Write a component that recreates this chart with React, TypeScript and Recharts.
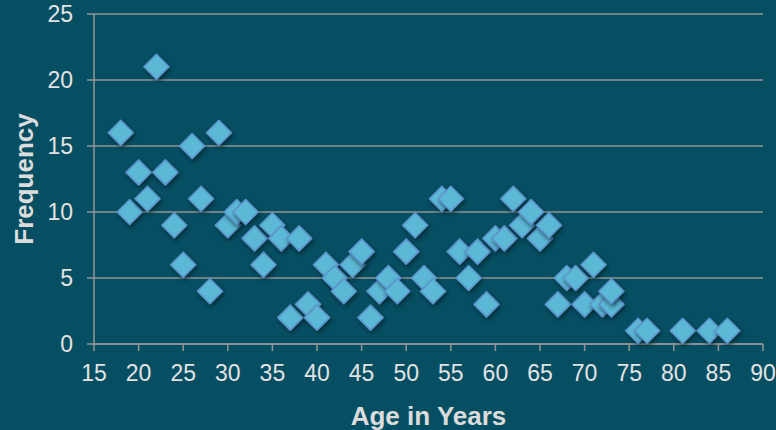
import { CartesianGrid, Label, Scatter, ScatterChart, XAxis, YAxis } from 'recharts';

const ages = [
  18, 19, 20, 21, 22, 23, 24, 25, 26, 27, 28, 29, 30, 31, 32, 33, 34, 35, 36, 37, 38,
  39, 40, 41, 42, 43, 44, 45, 46, 47, 48, 49, 50, 51, 52, 53, 54, 55, 56, 57, 58, 59,
  60, 61, 62, 63, 64, 65, 66, 67, 68, 69, 70, 71, 72, 73, 73, 76, 77, 81, 84, 86,
];
const frequencies = [
  16, 10, 13, 11, 21, 13, 9, 6, 15, 11, 4, 16, 9, 10, 10, 8, 6, 9, 8, 2, 8,
  3, 2, 6, 5, 4, 6, 7, 2, 4, 5, 4, 7, 9, 5, 4, 11, 11, 7, 5, 7, 3,
  8, 8, 11, 9, 10, 8, 9, 3, 5, 5, 3, 6, 3, 3, 4, 1, 1, 1, 1, 1,
];
const xTicks = [15, 20, 25, 30, 35, 40, 45, 50, 55, 60, 65, 70, 75, 80, 85, 90];
const yTicks = [0, 5, 10, 15, 20, 25];

const points = ages.map((age, i) => ({ age, freq: frequencies[i] }));

const BG = '#064f63';
const GRID = '#939696';
const TICK = '#e3e3e3';
const FONT = '"Liberation Sans", Arial, Helvetica, sans-serif';

function Diamond(props: any) {
  const { cx, cy } = props;
  if (cx == null || cy == null) return null;
  const r = 12.5;
  const pts = `${cx},${cy - r} ${cx + r},${cy} ${cx},${cy + r} ${cx - r},${cy}`;
  return (
    <polygon
      points={pts}
      fill="#5bb9d5"
      stroke="#5d94cc"
      strokeWidth={1.6}
      strokeLinejoin="round"
      filter="url(#diamondShadow)"
    />
  );
}

function XTitle({ viewBox }: any) {
  const { x, y, width, height } = viewBox;
  return (
    <text x={x + width / 2} y={y + height - 5} textAnchor="middle" fill="#dcdcdc"
      fontFamily={FONT} fontSize={26} fontWeight="bold">
      Age in Years
    </text>
  );
}

function YTitle({ viewBox }: any) {
  const { x, y, height } = viewBox;
  const tx = x + 33;
  const ty = y + height / 2;
  return (
    <text x={tx} y={ty} textAnchor="middle" transform={`rotate(-90 ${tx} ${ty})`} fill="#dcdcdc"
      fontFamily={FONT} fontSize={26} fontWeight="bold">
      Frequency
    </text>
  );
}

export default function App() {
  return (
    <div style={{ position: 'absolute', left: 0, top: 0, width: 776, height: 430, background: BG }}>
      <svg width={0} height={0} style={{ position: 'absolute' }}>
        <defs>
          <filter id="diamondShadow" x="-50%" y="-50%" width="200%" height="200%">
            <feDropShadow dx={1.5} dy={2.5} stdDeviation={2} floodColor="#01202a" floodOpacity={0.75} />
          </filter>
        </defs>
      </svg>
      <ScatterChart width={776} height={430} margin={{ top: 14, right: 13, bottom: 0, left: 0 }}>
        <CartesianGrid vertical={false} stroke={GRID} strokeWidth={1.5} />
        <XAxis
          type="number"
          dataKey="age"
          domain={[15, 90]}
          ticks={xTicks}
          interval={0}
          height={86}
          tickSize={7}
          tickMargin={14}
          axisLine={{ stroke: GRID, strokeWidth: 1.5 }}
          tickLine={{ stroke: GRID, strokeWidth: 1.5 }}
          tick={{ fill: TICK, fontSize: 23, fontFamily: FONT }}
        >
          <Label content={<XTitle />} />
        </XAxis>
        <YAxis
          type="number"
          dataKey="freq"
          domain={[0, 25]}
          ticks={yTicks}
          interval={0}
          width={94}
          tickSize={7}
          tickMargin={14}
          axisLine={{ stroke: GRID, strokeWidth: 1.5 }}
          tickLine={{ stroke: GRID, strokeWidth: 1.5 }}
          tick={{ fill: TICK, fontSize: 23, fontFamily: FONT }}
        >
          <Label content={<YTitle />} />
        </YAxis>
        <Scatter data={points} shape={<Diamond />} isAnimationActive={false} />
      </ScatterChart>
    </div>
  );
}
